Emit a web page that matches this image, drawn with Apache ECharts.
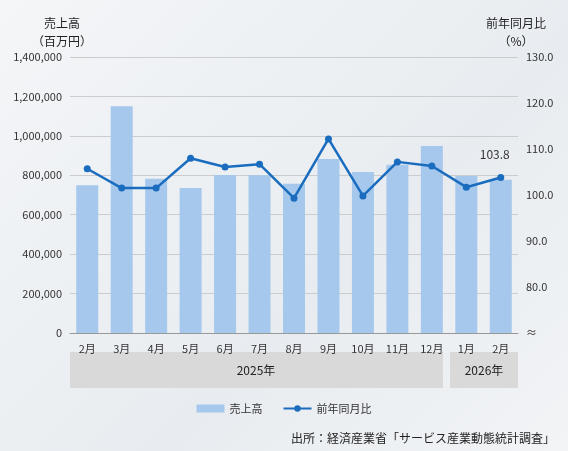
<!DOCTYPE html>
<html><head><meta charset="utf-8">
<script src="https://cdn.jsdelivr.net/npm/echarts@6/dist/echarts.min.js"></script>
<style>html,body{margin:0;padding:0;}#c{width:568px;height:451px;background:linear-gradient(135deg,#f4f6f8,#e8ecf0 60%,#f2f4f6);}</style>
</head><body><div id="c"></div>
<script>
const months=['2月','3月','4月','5月','6月','7月','8月','9月','10月','11月','12月','1月','2月'];
const sales=[750000,1150000,782000,736000,802000,800000,757000,883000,817000,853000,949000,797000,777000];
const yoy=[105.7,101.5,101.5,108.0,106.1,106.7,99.3,112.2,99.8,107.2,106.3,101.7,103.8];
const leftTicks=[0,200000,400000,600000,800000,1000000,1200000,1400000];
const years=['2025年','2026年'];
const F='"Noto Sans CJK JP","Noto Sans",sans-serif';
const chart=echarts.init(document.getElementById('c'));
chart.setOption({
  textStyle:{fontFamily:F},
  animation:false,
  grid:{left:70,right:50,top:57,bottom:118},
  legend:{bottom:32,left:'center',itemGap:20,textStyle:{fontSize:11,color:'#333'},
    data:[{name:'売上高',icon:'rect'},{name:'前年同月比'}],itemWidth:28,itemHeight:8},
  xAxis:{type:'category',data:months,axisTick:{show:false},axisLine:{lineStyle:{color:'#999'}},
    axisLabel:{color:'#333',fontSize:11,margin:10}},
  yAxis:[{type:'value',min:0,max:1400000,interval:200000,
    axisLabel:{color:'#333',fontSize:11,formatter:v=>v.toLocaleString('en-US')},
    splitLine:{lineStyle:{color:'#ccc'}}},
   {type:'value',min:70,max:130,interval:10,splitLine:{show:false},
    axisLabel:{color:'#333',fontSize:11,formatter:v=>v===70?'≈':v.toFixed(1)}}],
  series:[
   {name:'売上高',type:'bar',data:sales,barWidth:22,itemStyle:{color:'#a6c8ec'}},
   {name:'前年同月比',type:'line',yAxisIndex:1,data:yoy.map((v,i)=>i===yoy.length-1?{value:v,label:{show:true,position:'top',distance:14,offset:[-6,0],formatter:v.toFixed(1),fontSize:12,color:'#333'}}:v),
    symbol:'circle',symbolSize:7,lineStyle:{color:'#1a6cbf',width:2.5},itemStyle:{color:'#1a6cbf'}}
  ],
  graphic:[
   {type:'rect',shape:{x:70,y:352,width:373,height:36},style:{fill:'#d9d9d9'}},
   {type:'rect',shape:{x:450,y:352,width:68,height:36},style:{fill:'#d9d9d9'}},
   {type:'text',x:256,y:370,style:{text:years[0],fill:'#222',font:'12px '+F,align:'center',verticalAlign:'middle'}},
   {type:'text',x:484,y:370,style:{text:years[1],fill:'#222',font:'12px '+F,align:'center',verticalAlign:'middle'}},
   {type:'text',x:62,y:14,style:{text:'売上高\n（百万円）',fill:'#222',font:'12px '+F,align:'center',lineHeight:18}},
   {type:'text',x:516,y:14,style:{text:'前年同月比\n（%）',fill:'#222',font:'12px '+F,align:'center',lineHeight:18}},
   {type:'text',x:555,y:444,style:{text:'出所：経済産業省「サービス産業動態統計調査」',fill:'#222',font:'12px '+F,align:'right',verticalAlign:'bottom'}}
  ]
});
</script></body></html>
